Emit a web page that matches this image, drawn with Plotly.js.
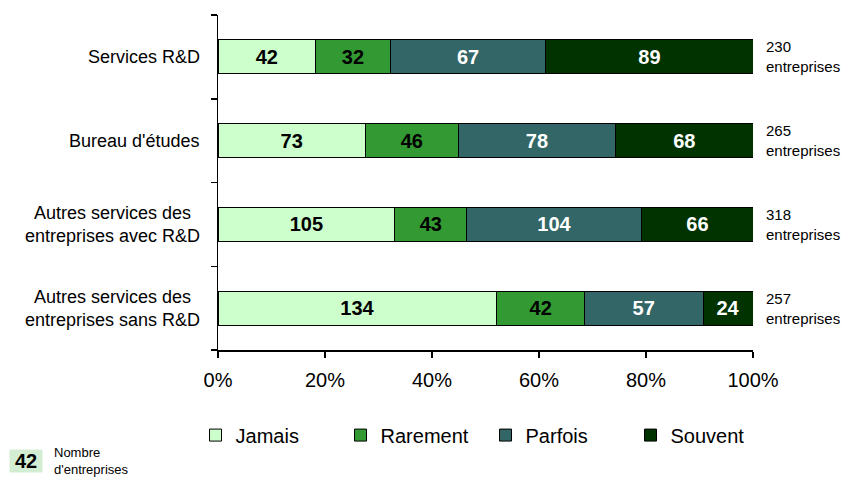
<!DOCTYPE html>
<html>
<head>
<meta charset="utf-8">
<script src="https://cdn.plot.ly/plotly-3.0.1.min.js"></script>
<style>html,body{margin:0;padding:0;background:#fff;}#chart{width:846px;height:477px;}</style>
</head>
<body>
<div id="chart"></div>
<script>
var categories = [
  "Services R&D",
  "Bureau d'études",
  "Autres services des<br>entreprises avec R&D",
  "Autres services des<br>entreprises sans R&D"
];
var seriesNames = ["Jamais", "Rarement", "Parfois", "Souvent"];
var jamais   = [42, 73, 105, 134];
var rarement = [32, 46, 43, 42];
var parfois  = [67, 78, 104, 57];
var souvent  = [89, 68, 66, 24];
var xTickVals = [0, 0.2, 0.4, 0.6, 0.8, 1];
var xTickText = ["0%", "20%", "40%", "60%", "80%", "100%"];

var FONT = "Liberation Sans, Arial, sans-serif";
var seriesValues = [jamais, rarement, parfois, souvent];
var colors = ["#CCFFCC", "#339933", "#336666", "#003300"];
var textColors = ["#000000", "#000000", "#ffffff", "#ffffff"];

var traces = seriesValues.map(function (vals, i) {
  return {
    type: "bar",
    orientation: "h",
    name: seriesNames[i],
    y: categories,
    x: vals,
    text: vals.map(String),
    textposition: "inside",
    insidetextanchor: "middle",
    textangle: 0,
    constraintext: "none",
    textfont: {family: FONT, size: 20, color: textColors[i], weight: "bold"},
    marker: {color: colors[i], line: {color: "#000000", width: 1}},
    hoverinfo: "none"
  };
});

var totals = categories.map(function (c, k) {
  return jamais[k] + rarement[k] + parfois[k] + souvent[k];
});

var annotations = [];
categories.forEach(function (c, k) {
  annotations.push({
    xref: "paper", yref: "y", x: 0, y: c,
    xanchor: "right", yanchor: "middle", xshift: -16,
    text: c, align: "center", showarrow: false,
    font: {family: FONT, size: 18, color: "#000"}
  });
  annotations.push({
    xref: "paper", yref: "y", x: 1, y: c,
    xanchor: "left", yanchor: "middle", xshift: 11,
    text: totals[k] + "<br>entreprises", align: "left", showarrow: false,
    font: {family: FONT, size: 15, color: "#000"}
  });
});
annotations.push({
  xref: "paper", yref: "paper", x: -0.3589, y: -0.331,
  xanchor: "center", yanchor: "middle",
  text: "<b>42</b>", showarrow: false, bgcolor: "#D3EDD3",
  width: 32, height: 22, borderpad: 0,
  font: {family: FONT, size: 20, color: "#000"}
});
annotations.push({
  xref: "paper", yref: "paper", x: -0.3112, y: -0.33,
  xanchor: "left", yanchor: "middle",
  text: "Nombre<br>d'entreprises", align: "left", showarrow: false,
  font: {family: FONT, size: 13, color: "#000"}
});

var layout = {
  width: 846, height: 477,
  margin: {l: 218, r: 93, t: 15, b: 127},
  paper_bgcolor: "#fff", plot_bgcolor: "#fff",
  barmode: "stack", barnorm: "fraction", bargap: 0.594,
  font: {family: FONT, color: "#000"},
  showlegend: true,
  legend: {
    orientation: "h", x: -0.042, xanchor: "left", y: -0.254, yanchor: "middle",
    font: {family: FONT, size: 20, color: "#000"}, traceorder: "normal",
    itemwidth: 30, entrywidth: 100, entrywidthmode: "pixels"
  },
  xaxis: {
    range: [0, 1], tickmode: "array", tickvals: xTickVals, ticktext: xTickText,
    showgrid: false, zeroline: false, showline: true, linecolor: "#000", linewidth: 1.5,
    ticks: "outside", ticklen: 6, tickcolor: "#000", tickwidth: 1.5,
    ticklabelstandoff: 5,
    tickfont: {family: FONT, size: 20, color: "#000"}, fixedrange: true
  },
  yaxis: {
    type: "category", categoryorder: "array", categoryarray: categories.slice().reverse(),
    range: [-0.5, 3.5], showticklabels: false,
    showgrid: false, zeroline: false, showline: true, linecolor: "#000", linewidth: 1.5,
    ticks: "outside", tickson: "boundaries", ticklen: 6, tickcolor: "#000", tickwidth: 1.5,
    fixedrange: true
  },
  annotations: annotations
};

Plotly.newPlot("chart", traces, layout, {displayModeBar: false, staticPlot: true});
</script>
</body>
</html>
